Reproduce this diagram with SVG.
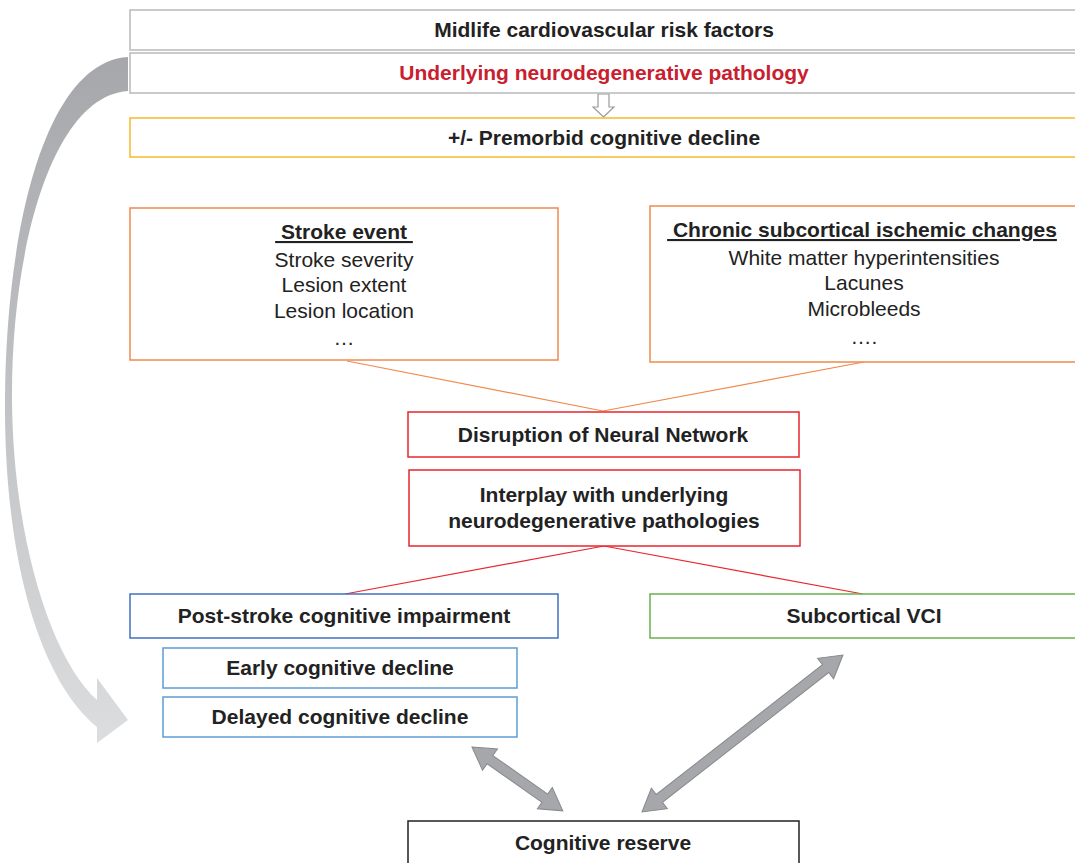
<svg xmlns="http://www.w3.org/2000/svg" width="1075" height="863" viewBox="0 0 1075 863">
<defs>
<linearGradient id="curveGrad" x1="0" y1="0" x2="0" y2="1">
<stop offset="0" stop-color="#a6a7aa"/>
<stop offset="1" stop-color="#dcdddf"/>
</linearGradient>
<style>
text{font-family:"Liberation Sans",Arial,sans-serif;font-size:21px;fill:#222;text-anchor:middle}
.b{font-weight:bold}
.red{fill:#c8202e}
.box{fill:#fff;stroke-width:1.5}
.grey{stroke:#b9b9b9}
.yellow{stroke:#f5bb2c}
.orange{stroke:#f08a4c}
.redbox{stroke:#e8262d}
.blue{stroke:#3f71c4}
.lblue{stroke:#5f9cd6}
.green{stroke:#6ab14e}
.black{stroke:#222}
.dbl{fill:#a6a7aa;stroke:#88898c;stroke-width:1}
.u{text-decoration:underline}
</style>
</defs>
<rect width="1075" height="863" fill="#fff"/>

<g id="connectors">
<path d="M128,57 C45,62 6,230 5,400 C4,560 40,680 97,727 L97,743 L128,720 L97,678 L97,700 C52,660 13,540 12,400 C11,250 52,96 128,91 Z" fill="url(#curveGrad)"/>
<path d="M598,94 L609,94 L609,107 L614,107 L603.5,117 L593,107 L598,107 Z" fill="#fff" stroke="#9a9a9a" stroke-width="1.2"/>
<line x1="347" y1="361" x2="603" y2="411" stroke="#f08a4c" stroke-width="1.2"/>
<line x1="864" y1="362" x2="603" y2="411" stroke="#f08a4c" stroke-width="1.2"/>
<line x1="604" y1="546" x2="345" y2="594" stroke="#e8262d" stroke-width="1.2"/>
<line x1="604" y1="546" x2="863" y2="594" stroke="#e8262d" stroke-width="1.2"/>
<path class="dbl" transform="translate(472,747) rotate(35.1)" d="M0,0 L22,-13 L22,-5 L89,-5 L89,-13 L111,0 L89,13 L89,5 L22,5 L22,13 Z"/>
<path class="dbl" transform="translate(642,812) rotate(-38)" d="M0,0 L22,-13 L22,-5 L233,-5 L233,-13 L255,0 L233,13 L233,5 L22,5 L22,13 Z"/>
</g>

<g id="midlife">
<rect class="box grey" x="130" y="10" width="950" height="40"/>
<text class="b" x="604" y="37">Midlife cardiovascular risk factors</text>
</g>
<g id="underlying">
<rect class="box grey" x="130" y="53" width="950" height="40"/>
<text class="b red" x="604" y="80">Underlying neurodegenerative pathology</text>
</g>
<g id="premorbid">
<rect class="box yellow" x="130" y="118" width="950" height="39"/>
<text class="b" x="604" y="145">+/- Premorbid cognitive decline</text>
</g>

<g id="stroke-event">
<rect class="box orange" x="130" y="208" width="428" height="152"/>
<text class="b u" x="344" y="239" xml:space="preserve"> Stroke event </text>
<text x="344" y="267">Stroke severity</text>
<text x="344" y="292">Lesion extent</text>
<text x="344" y="318">Lesion location</text>
<text x="344" y="345">…</text>
</g>

<g id="chronic">
<rect class="box orange" x="650" y="206" width="430" height="156"/>
<text class="b u" x="862" y="237" xml:space="preserve"> Chronic subcortical ischemic changes</text>
<text x="864" y="265">White matter hyperintensities</text>
<text x="864" y="290">Lacunes</text>
<text x="864" y="316">Microbleeds</text>
<text x="864" y="344">….</text>
</g>

<g id="disruption">
<rect class="box redbox" x="408" y="412" width="391" height="45"/>
<text class="b" x="603" y="442">Disruption of Neural Network</text>
</g>

<g id="interplay">
<rect class="box redbox" x="409" y="470" width="391" height="76"/>
<text class="b" x="604" y="502">Interplay with underlying</text>
<text class="b" x="604" y="528">neurodegenerative pathologies</text>
</g>

<g id="pscI">
<rect class="box blue" x="130" y="594" width="428" height="44"/>
<text class="b" x="344" y="623">Post-stroke cognitive impairment</text>
</g>

<g id="subcortical-vci">
<rect class="box green" x="650" y="594" width="430" height="44"/>
<text class="b" x="864" y="623">Subcortical VCI</text>
</g>

<g id="early">
<rect class="box lblue" x="163" y="648" width="354" height="40"/>
<text class="b" x="340" y="675">Early cognitive decline</text>
</g>

<g id="delayed">
<rect class="box lblue" x="163" y="697" width="354" height="40"/>
<text class="b" x="340" y="724">Delayed cognitive decline</text>
</g>

<g id="reserve">
<rect class="box black" x="408" y="821" width="391" height="50"/>
<text class="b" x="603" y="850">Cognitive reserve</text>
</g>
</svg>
